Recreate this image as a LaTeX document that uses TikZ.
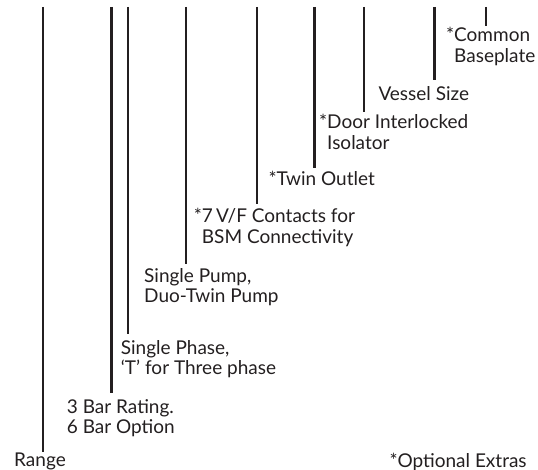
\documentclass[tikz,border=0pt]{standalone}
\usepackage{fontspec}
\setmainfont{Lato}
\usepackage{tikz}

\definecolor{inkdark}{HTML}{231F20}

\tikzset{
    codeline/.style={draw=inkdark, line width=2.2pt},
    codelabel/.style={anchor=base west, inner sep=0pt, align=left, text=inkdark,
        font=\fontsize{19}{20.5}\selectfont},
}

\begin{document}
\begin{tikzpicture}[x=1pt, y=1pt]
    \useasboundingbox (0,0) rectangle (538,-470);

    % tops of the code lines
    \coordinate (rangetop) at (43,-7);
    \coordinate (bartop) at (111.5,-7);
    \coordinate (phasetop) at (128.3,-7);
    \coordinate (pumptop) at (185.7,-7);
    \coordinate (vftop) at (256.7,-7);
    \coordinate (twintop) at (314.5,-7);
    \coordinate (doortop) at (364,-7);
    \coordinate (vesseltop) at (434.5,-7);
    \coordinate (basetop) at (486,-7);

    % labels (base = baseline of the last line)
    \node [codelabel] (range) at (14,-466) {Range};
    \node [codelabel] (bar) at (66.7,-433.5) {3 Bar Rating.\\6 Bar Option};
    \node [codelabel] (phase) at (120.7,-374.5) {Single Phase,\\`T' for Three phase};
    \node [codelabel] (pump) at (144,-302.5) {Single Pump,\\Duo-Twin Pump};
    \node [codelabel] (vf) at (201.7,-243.5) {\llap{*}7\,V/F Contacts for\\BSM Connectivity};
    \node [codelabel] (twin) at (268.3,-186) {*Twin Outlet};
    \node [codelabel] (door) at (327,-149.5) {\llap{*}Door Interlocked\\Isolator};
    \node [codelabel] (vessel) at (378.3,-101) {Vessel Size};
    \node [codelabel] (base) at (454,-62.5) {\llap{*}Common\\Baseplate};
    \node [codelabel] (extras) at (389.3,-467) {*Optional Extras};

    % code lines
    \draw [codeline] (rangetop) -- ([yshift=0.5pt]rangetop |- range.north);
    \draw [codeline] (bartop) -- ([yshift=6pt]bartop |- bar.north);
    \draw [codeline] (phasetop) -- ([yshift=6pt]phasetop |- phase.north);
    \draw [codeline] (pumptop) -- ([yshift=4pt]pumptop |- pump.north);
    \draw [codeline] (vftop) -- ([yshift=4pt]vftop |- vf.north);
    \draw [codeline] (twintop) -- ([yshift=3pt]twintop |- twin.north);
    \draw [codeline] (doortop) -- ([yshift=2.5pt]doortop |- door.north);
    \draw [codeline] (vesseltop) -- ([yshift=7pt]vesseltop |- vessel.north);
    \draw [codeline] (basetop) -- ([yshift=1.5pt]basetop |- base.north);
\end{tikzpicture}
\end{document}
